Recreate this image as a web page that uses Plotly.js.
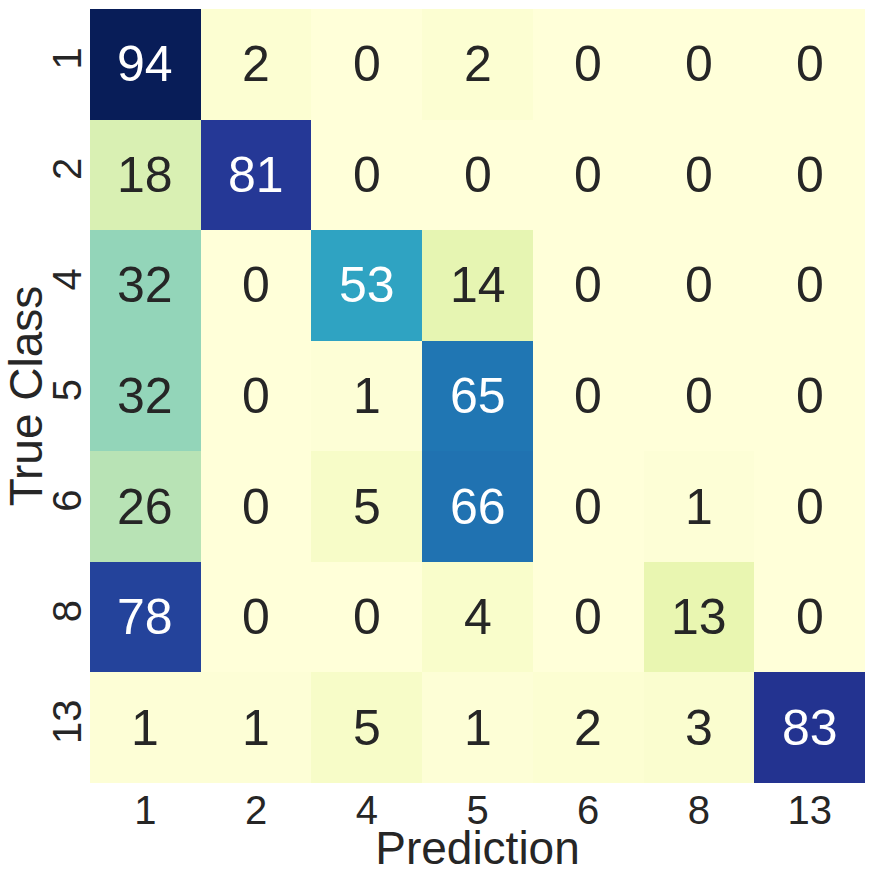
<!DOCTYPE html>
<html>
<head>
<meta charset="utf-8">
<script src="https://cdn.plot.ly/plotly-3.0.1.min.js"></script>
<style>
  html, body { margin: 0; padding: 0; background: #fff; }
  #chart { width: 874px; height: 874px; }
</style>
</head>
<body>
<div id="chart"></div>
<script>
// confusion matrix: rows = true class, cols = prediction
const classLabels = ['1', '2', '4', '5', '6', '8', '13'];
const counts = [
  [94,  2,  0,  2, 0,  0,  0],
  [18, 81,  0,  0, 0,  0,  0],
  [32,  0, 53, 14, 0,  0,  0],
  [32,  0,  1, 65, 0,  0,  0],
  [26,  0,  5, 66, 0,  1,  0],
  [78,  0,  0,  4, 0, 13,  0],
  [ 1,  1,  5,  1, 2,  3, 83],
];

// matplotlib YlGnBu
const YLGNBU = ['#ffffd9', '#edf8b1', '#c7e9b4', '#7fcdbb', '#41b6c4',
                '#1d91c0', '#225ea8', '#253494', '#081d58'];
const colorscale = YLGNBU.map((c, i) => [i / (YLGNBU.length - 1), c]);

const hexRgb = h => [1, 3, 5].map(i => parseInt(h.slice(i, i + 2), 16));

function colorAt(t) {
  const n = YLGNBU.length - 1;
  const p = Math.min(Math.max(t, 0), 1) * n;
  const i = Math.min(Math.floor(p), n - 1);
  const f = p - i;
  const a = hexRgb(YLGNBU[i]), b = hexRgb(YLGNBU[i + 1]);
  return a.map((v, k) => v + (b[k] - v) * f);
}

// same rule seaborn uses for annotation colour
function luminance(rgb) {
  const c = rgb.map(v => {
    v /= 255;
    return v <= 0.03928 ? v / 12.92 : Math.pow((v + 0.055) / 1.055, 2.4);
  });
  return 0.2126 * c[0] + 0.7152 * c[1] + 0.0722 * c[2];
}

const zmax = Math.max(...counts.flat());
const FONT = 'Liberation Sans, Arial, sans-serif';
const INK = '#262626';
const n = classLabels.length;

// annotations placed by category index on the axes
const annotations = [];
counts.forEach((row, r) => row.forEach((v, c) => {
  const lum = luminance(colorAt(v / zmax));
  annotations.push({
    x: c, y: r, xref: 'x', yref: 'y', text: String(v),
    showarrow: false,
    font: { family: FONT, size: 50, color: lum < 0.408 ? '#ffffff' : INK },
  });
}));

Plotly.newPlot('chart', [{
  type: 'heatmap',
  x: classLabels,
  y: classLabels,
  z: counts,
  zmin: 0,
  zmax: zmax,
  colorscale: colorscale,
  showscale: false,
  hoverinfo: 'skip',
}], {
  width: 874,
  height: 874,
  paper_bgcolor: '#ffffff',
  plot_bgcolor: '#ffffff',
  margin: { t: 9, b: 91, l: 90, r: 9 },
  font: { family: FONT, color: INK },
  xaxis: {
    type: 'category',
    range: [-0.5, n - 0.5],
    automargin: false,
    showgrid: false, zeroline: false, showline: false, ticks: '',
    tickfont: { size: 40, color: INK },
    title: { text: 'Prediction', font: { size: 46, color: INK }, standoff: 4 },
  },
  yaxis: {
    type: 'category',
    range: [n - 0.5, -0.5],
    automargin: false,
    showgrid: false, zeroline: false, showline: false, ticks: '',
    tickangle: -90,
    tickfont: { size: 40, color: INK },
    title: { text: 'True Class', font: { size: 46, color: INK }, standoff: 2 },
  },
  annotations: annotations,
}, { displayModeBar: false, responsive: false });
</script>
</body>
</html>
